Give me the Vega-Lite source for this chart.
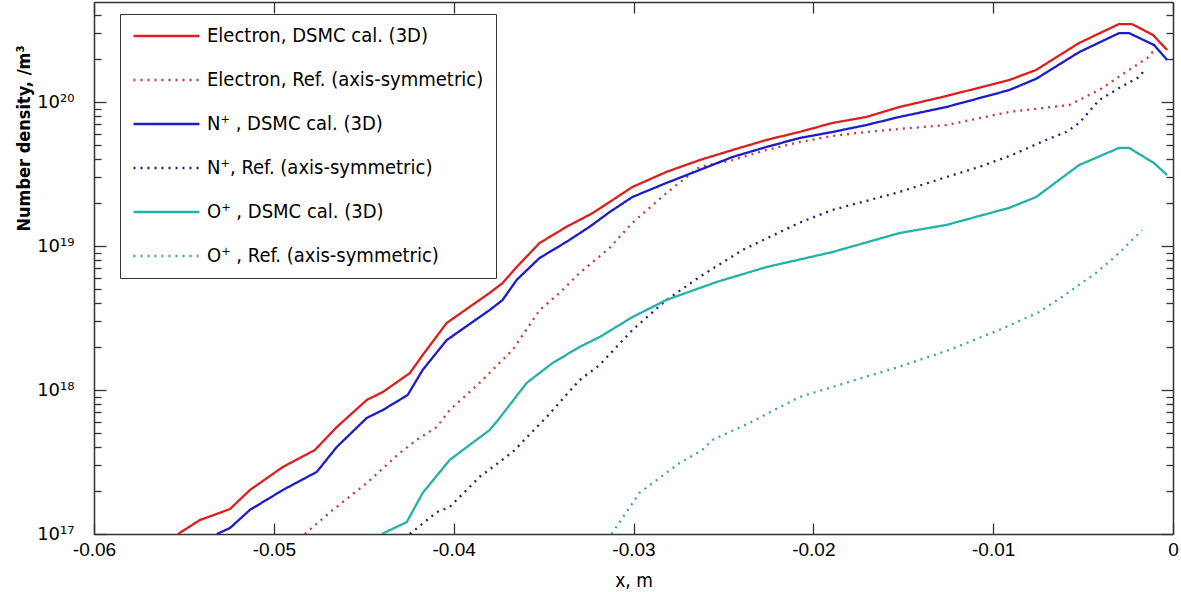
{
  "$schema": "https://vega.github.io/schema/vega-lite/v6.json",
  "width": 1079,
  "height": 532,
  "autosize": {"type": "none"},
  "padding": {"left": 94, "top": 2, "right": 8, "bottom": 58},
  "background": "white",
  "config": {
    "view": {"stroke": null},
    "axis": {"domainColor": "#333", "domainWidth": 1.5, "tickColor": "#333", "tickWidth": 1.3, "ticks": true, "grid": false, "labelColor": "#000", "titleColor": "#000"},
    "legend": {"orient": "none", "legendX": 26, "legendY": 12, "title": null, "symbolType": "stroke", "symbolSize": 4356, "symbolStrokeWidth": 2.3, "labelFont": "DejaVu Sans Condensed, Liberation Sans", "labelFontSize": 20, "labelColor": "#000", "rowPadding": 24, "clipHeight": 20, "padding": 12, "strokeColor": "#333", "fillColor": "#ffffff", "labelOffset": 6, "labelLimit": 400}
  },
  "data": {"values": [
    {"s":"e3","x":-0.05533,"y":1.00e17},{"s":"e3","x":-0.05411,"y":1.25e17},{"s":"e3","x":-0.05244,"y":1.49e17},{"s":"e3","x":-0.05133,"y":2.02e17},{"s":"e3","x":-0.0495,"y":2.92e17},{"s":"e3","x":-0.04772,"y":3.83e17},{"s":"e3","x":-0.0465,"y":5.53e17},{"s":"e3","x":-0.04483,"y":8.53e17},{"s":"e3","x":-0.04394,"y":9.68e17},{"s":"e3","x":-0.04244,"y":1.31e18},{"s":"e3","x":-0.04172,"y":1.75e18},{"s":"e3","x":-0.04039,"y":2.92e18},{"s":"e3","x":-0.038,"y":4.72e18},{"s":"e3","x":-0.03728,"y":5.53e18},{"s":"e3","x":-0.0365,"y":7.14e18},{"s":"e3","x":-0.03522,"y":1.05e19},{"s":"e3","x":-0.03372,"y":1.36e19},{"s":"e3","x":-0.03228,"y":1.69e19},{"s":"e3","x":-0.03133,"y":2.02e19},{"s":"e3","x":-0.03006,"y":2.57e19},{"s":"e3","x":-0.02817,"y":3.27e19},{"s":"e3","x":-0.02633,"y":3.95e19},{"s":"e3","x":-0.0245,"y":4.64e19},{"s":"e3","x":-0.02261,"y":5.45e19},{"s":"e3","x":-0.02078,"y":6.19e19},{"s":"e3","x":-0.01894,"y":7.15e19},{"s":"e3","x":-0.01706,"y":7.87e19},{"s":"e3","x":-0.01522,"y":9.23e19},{"s":"e3","x":-0.01261,"y":1.10e20},{"s":"e3","x":-0.00911,"y":1.42e20},{"s":"e3","x":-0.00761,"y":1.67e20},{"s":"e3","x":-0.00522,"y":2.57e20},{"s":"e3","x":-0.003,"y":3.48e20},{"s":"e3","x":-0.00228,"y":3.48e20},{"s":"e3","x":-0.00111,"y":2.92e20},{"s":"e3","x":-0.00033,"y":2.30e20},
    {"s":"er","x":-0.04828,"y":1.0e17},{"s":"er","x":-0.04672,"y":1.47e17},{"s":"er","x":-0.04483,"y":2.26e17},{"s":"er","x":-0.043,"y":3.65e17},{"s":"er","x":-0.04206,"y":4.50e17},{"s":"er","x":-0.04094,"y":5.53e17},{"s":"er","x":-0.04022,"y":7.26e17},{"s":"er","x":-0.03856,"y":1.12e18},{"s":"er","x":-0.03672,"y":1.90e18},{"s":"er","x":-0.03522,"y":3.59e18},{"s":"er","x":-0.03411,"y":4.72e18},{"s":"er","x":-0.033,"y":6.50e18},{"s":"er","x":-0.03133,"y":9.69e18},{"s":"er","x":-0.03006,"y":1.45e19},{"s":"er","x":-0.02817,"y":2.33e19},{"s":"er","x":-0.02633,"y":3.54e19},{"s":"er","x":-0.0245,"y":3.95e19},{"s":"er","x":-0.02261,"y":4.64e19},{"s":"er","x":-0.02078,"y":5.27e19},{"s":"er","x":-0.01894,"y":5.81e19},{"s":"er","x":-0.01706,"y":6.19e19},{"s":"er","x":-0.01522,"y":6.50e19},{"s":"er","x":-0.01261,"y":6.92e19},{"s":"er","x":-0.00911,"y":8.53e19},{"s":"er","x":-0.00578,"y":9.53e19},{"s":"er","x":-0.00411,"y":1.21e20},{"s":"er","x":-0.00244,"y":1.67e20},{"s":"er","x":-0.00133,"y":2.06e20},{"s":"er","x":-0.00094,"y":2.41e20},
    {"s":"n3","x":-0.05317,"y":1.0e17},{"s":"n3","x":-0.05244,"y":1.10e17},{"s":"n3","x":-0.05133,"y":1.47e17},{"s":"n3","x":-0.0495,"y":2.02e17},{"s":"n3","x":-0.04761,"y":2.70e17},{"s":"n3","x":-0.0465,"y":4.02e17},{"s":"n3","x":-0.04483,"y":6.40e17},{"s":"n3","x":-0.04394,"y":7.26e17},{"s":"n3","x":-0.04256,"y":9.23e17},{"s":"n3","x":-0.04172,"y":1.38e18},{"s":"n3","x":-0.04039,"y":2.22e18},{"s":"n3","x":-0.038,"y":3.59e18},{"s":"n3","x":-0.03728,"y":4.22e18},{"s":"n3","x":-0.0365,"y":5.81e18},{"s":"n3","x":-0.03522,"y":8.26e18},{"s":"n3","x":-0.03372,"y":1.07e19},{"s":"n3","x":-0.03244,"y":1.36e19},{"s":"n3","x":-0.03133,"y":1.72e19},{"s":"n3","x":-0.03006,"y":2.19e19},{"s":"n3","x":-0.02817,"y":2.74e19},{"s":"n3","x":-0.02633,"y":3.37e19},{"s":"n3","x":-0.0245,"y":4.15e19},{"s":"n3","x":-0.02261,"y":4.87e19},{"s":"n3","x":-0.02078,"y":5.62e19},{"s":"n3","x":-0.01894,"y":6.19e19},{"s":"n3","x":-0.01706,"y":6.92e19},{"s":"n3","x":-0.01522,"y":7.87e19},{"s":"n3","x":-0.01261,"y":9.23e19},{"s":"n3","x":-0.00911,"y":1.21e20},{"s":"n3","x":-0.00761,"y":1.45e20},{"s":"n3","x":-0.00522,"y":2.22e20},{"s":"n3","x":-0.003,"y":3.01e20},{"s":"n3","x":-0.00244,"y":3.01e20},{"s":"n3","x":-0.00106,"y":2.49e20},{"s":"n3","x":-0.00033,"y":1.96e20},
    {"s":"nr","x":-0.04244,"y":1.0e17},{"s":"nr","x":-0.04094,"y":1.42e17},{"s":"nr","x":-0.04022,"y":1.54e17},{"s":"nr","x":-0.03856,"y":2.49e17},{"s":"nr","x":-0.03672,"y":3.71e17},{"s":"nr","x":-0.03483,"y":6.50e17},{"s":"nr","x":-0.033,"y":1.17e18},{"s":"nr","x":-0.03189,"y":1.49e18},{"s":"nr","x":-0.03006,"y":2.61e18},{"s":"nr","x":-0.02817,"y":4.22e18},{"s":"nr","x":-0.02633,"y":6.10e18},{"s":"nr","x":-0.02394,"y":9.38e18},{"s":"nr","x":-0.02078,"y":1.45e19},{"s":"nr","x":-0.01894,"y":1.78e19},{"s":"nr","x":-0.01522,"y":2.37e19},{"s":"nr","x":-0.01261,"y":3.01e19},{"s":"nr","x":-0.01078,"y":3.54e19},{"s":"nr","x":-0.00894,"y":4.29e19},{"s":"nr","x":-0.00706,"y":5.45e19},{"s":"nr","x":-0.00594,"y":6.19e19},{"s":"nr","x":-0.00522,"y":7.15e19},{"s":"nr","x":-0.00411,"y":1.03e20},{"s":"nr","x":-0.003,"y":1.25e20},{"s":"nr","x":-0.00189,"y":1.49e20},{"s":"nr","x":-0.0015,"y":1.72e20},
    {"s":"o3","x":-0.044,"y":1.0e17},{"s":"o3","x":-0.04261,"y":1.21e17},{"s":"o3","x":-0.04172,"y":1.93e17},{"s":"o3","x":-0.04022,"y":3.27e17},{"s":"o3","x":-0.038,"y":5.27e17},{"s":"o3","x":-0.03744,"y":6.40e17},{"s":"o3","x":-0.03594,"y":1.12e18},{"s":"o3","x":-0.0345,"y":1.54e18},{"s":"o3","x":-0.033,"y":1.99e18},{"s":"o3","x":-0.03189,"y":2.33e18},{"s":"o3","x":-0.03006,"y":3.21e18},{"s":"o3","x":-0.02817,"y":4.22e18},{"s":"o3","x":-0.02539,"y":5.62e18},{"s":"o3","x":-0.02261,"y":7.14e18},{"s":"o3","x":-0.01894,"y":9.08e18},{"s":"o3","x":-0.01522,"y":1.23e19},{"s":"o3","x":-0.01261,"y":1.40e19},{"s":"o3","x":-0.00911,"y":1.84e19},{"s":"o3","x":-0.00761,"y":2.19e19},{"s":"o3","x":-0.00522,"y":3.65e19},{"s":"o3","x":-0.003,"y":4.80e19},{"s":"o3","x":-0.00244,"y":4.80e19},{"s":"o3","x":-0.00106,"y":3.77e19},{"s":"o3","x":-0.00033,"y":3.11e19},
    {"s":"or","x":-0.03122,"y":1.0e17},{"s":"or","x":-0.02967,"y":1.93e17},{"s":"or","x":-0.02744,"y":3.11e17},{"s":"or","x":-0.02617,"y":3.83e17},{"s":"or","x":-0.02561,"y":4.50e17},{"s":"or","x":-0.02356,"y":5.90e17},{"s":"or","x":-0.02078,"y":8.93e17},{"s":"or","x":-0.018,"y":1.14e18},{"s":"or","x":-0.01522,"y":1.45e18},{"s":"or","x":-0.01244,"y":1.90e18},{"s":"or","x":-0.00967,"y":2.61e18},{"s":"or","x":-0.00744,"y":3.48e18},{"s":"or","x":-0.00617,"y":4.43e18},{"s":"or","x":-0.00428,"y":6.50e18},{"s":"or","x":-0.003,"y":8.93e18},{"s":"or","x":-0.00172,"y":1.29e19}
  ]},
  "layer": [
    {
      "mark": {"type": "line", "strokeWidth": 2.3, "strokeCap": "butt", "clip": true},
      "encoding": {
        "x": {"field": "x", "type": "quantitative", "scale": {"domain": [-0.06, 0], "nice": false, "zero": false},
          "axis": {"orient": "bottom", "values": [-0.06,-0.05,-0.04,-0.03,-0.02,-0.01,0], "ticks": true, "tickSize": -11, "labelPadding": 17, "labelFont": "Liberation Sans", "labelFontSize": 19, "labelFlush": false,
            "labelExpr": "datum.value == 0 ? '0' : '-' + format(-datum.value, '.2f')",
            "title": "x, m", "titleFont": "DejaVu Sans Condensed, Liberation Sans", "titleFontSize": 19, "titleFontWeight": "normal", "titleY": 37, "titleBaseline": "top"}},
        "y": {"field": "y", "type": "quantitative", "scale": {"type": "log", "domain": [1e17, 4.95e20], "nice": false},
          "axis": {"orient": "left",
            "values": [1e17,2e17,3e17,4e17,5e17,6e17,7e17,8e17,9e17,1e18,2e18,3e18,4e18,5e18,6e18,7e18,8e18,9e18,1e19,2e19,3e19,4e19,5e19,6e19,7e19,8e19,9e19,1e20,2e20,3e20,4e20],
            "ticks": true,
            "tickSize": {"condition": {"test": "abs(datum.value/1e17-1)<0.01 || abs(datum.value/1e18-1)<0.01 || abs(datum.value/1e19-1)<0.01 || abs(datum.value/1e20-1)<0.01", "value": -12}, "value": -7},
            "labelExpr": "abs(datum.value/1e17-1)<0.01?'10¹⁷':abs(datum.value/1e18-1)<0.01?'10¹⁸':abs(datum.value/1e19-1)<0.01?'10¹⁹':abs(datum.value/1e20-1)<0.01?'10²⁰':''",
            "labelOverlap": false, "labelFont": "DejaVu Sans", "labelFontSize": 18, "labelPadding": 32,
            "title": "Number density, /m³", "titleFont": "DejaVu Sans Condensed, Liberation Sans", "titleFontWeight": "bold", "titleFontSize": 18,
            "titleX": -70, "titleY": 136, "titleAngle": -90, "titleAlign": "center", "titleBaseline": "middle"}},
        "color": {"field": "s", "type": "nominal",
          "scale": {"domain": ["e3","er","n3","nr","o3","or"], "range": ["#dc1e1e","#c23a3a","#1c1cc8","#20207a","#22b2aa","#38a6a4"]},
          "legend": {"labelExpr": "datum.label=='e3'?'Electron, DSMC cal. (3D)':datum.label=='er'?'Electron, Ref. (axis-symmetric)':datum.label=='n3'?'N⁺ , DSMC cal. (3D)':datum.label=='nr'?'N⁺, Ref. (axis-symmetric)':datum.label=='o3'?'O⁺ , DSMC cal. (3D)':'O⁺ , Ref. (axis-symmetric)'"}},
        "strokeDash": {"field": "s", "type": "nominal",
          "scale": {"domain": ["e3","er","n3","nr","o3","or"], "range": [[1,0],[2,5],[1,0],[2,5],[1,0],[2,5]]},
          "legend": {"labelExpr": "datum.label=='e3'?'Electron, DSMC cal. (3D)':datum.label=='er'?'Electron, Ref. (axis-symmetric)':datum.label=='n3'?'N⁺ , DSMC cal. (3D)':datum.label=='nr'?'N⁺, Ref. (axis-symmetric)':datum.label=='o3'?'O⁺ , DSMC cal. (3D)':'O⁺ , Ref. (axis-symmetric)'"}}
      }
    },
    {
      "mark": {"type": "point", "opacity": 0},
      "encoding": {
        "x": {"field": "x", "type": "quantitative",
          "axis": {"orient": "top", "values": [-0.06,-0.05,-0.04,-0.03,-0.02,-0.01,0], "ticks": true, "tickSize": -11, "labels": false, "title": null}},
        "y": {"field": "y", "type": "quantitative",
          "axis": {"orient": "right",
            "values": [1e17,2e17,3e17,4e17,5e17,6e17,7e17,8e17,9e17,1e18,2e18,3e18,4e18,5e18,6e18,7e18,8e18,9e18,1e19,2e19,3e19,4e19,5e19,6e19,7e19,8e19,9e19,1e20,2e20,3e20,4e20],
            "ticks": true,
            "tickSize": {"condition": {"test": "abs(datum.value/1e17-1)<0.01 || abs(datum.value/1e18-1)<0.01 || abs(datum.value/1e19-1)<0.01 || abs(datum.value/1e20-1)<0.01", "value": -12}, "value": -7},
            "labels": false, "title": null}}
      }
    }
  ],
  "resolve": {"axis": {"x": "independent", "y": "independent"}}
}
